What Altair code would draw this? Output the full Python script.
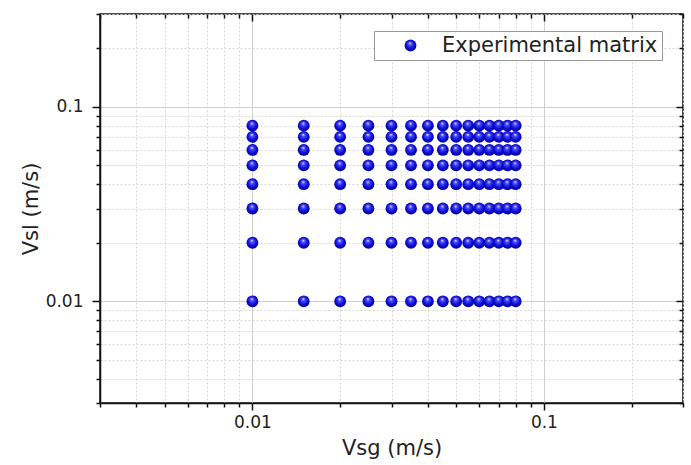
import altair as alt
import pandas as pd

# ---- data ----
vsg = [0.01, 0.015, 0.02, 0.025, 0.03, 0.035, 0.04, 0.045, 0.05,
       0.055, 0.06, 0.065, 0.07, 0.075, 0.08]
vsl = [0.01, 0.02, 0.03, 0.04, 0.05, 0.06, 0.07, 0.08]
series_name = "Experimental matrix"

tick_values = [0.003, 0.004, 0.005, 0.006, 0.007, 0.008, 0.009,
               0.01, 0.02, 0.03, 0.04, 0.05, 0.06, 0.07, 0.08, 0.09,
               0.1, 0.2, 0.3]
major_ticks = [0.01, 0.1]
minor_ticks = [v for v in tick_values if v not in major_ticks]
domain = [0.003, 0.3]

df = pd.DataFrame([{"Vsg": g, "Vsl": l, "series": series_name}
                   for l in vsl for g in vsg])

FONT = "DejaVu Sans"
is_major = "abs(log(datum.value)/LN10 - round(log(datum.value)/LN10)) < 0.001"
label_expr = f"({is_major}) ? format(datum.value, '~g') : ''"


def main_axis(orient, title, tick_major, label_pad, title_pad):
    return alt.Axis(
        orient=orient, values=tick_values, labelExpr=label_expr,
        title=title, titleFont=FONT, titleFontSize=21, titleFontWeight="normal",
        titleColor="#222", titlePadding=title_pad,
        labelFont=FONT, labelFontSize=17, labelColor="#222", labelPadding=label_pad,
        labelFlush=False, labelOverlap=False,
        tickColor="#111", tickWidth=1.5,
        tickSize={"condition": {"test": is_major, "value": tick_major}, "value": 4},
        domainColor="#111", domainWidth=1.5,
        grid=True,
        gridColor={"condition": {"test": is_major, "value": "#cfcfcf"}, "value": "#d6d6d6"},
        gridDash={"condition": {"test": is_major, "value": []}, "value": [2, 2]},
        gridWidth=1,
    )


xscale = alt.Scale(type="log", domain=domain, nice=False)
yscale = alt.Scale(type="log", domain=domain, nice=False)

gradient = alt.RadialGradient(
    gradient="radial",
    stops=[alt.GradientStop(offset=0, color="#ffffff"),
           alt.GradientStop(offset=0.22, color="#4a4aff"),
           alt.GradientStop(offset=0.6, color="#0a0ad0"),
           alt.GradientStop(offset=1, color="#000080")],
    x1=0.45, y1=0.3, r1=0, x2=0.5, y2=0.5, r2=0.62,
)

main = alt.Chart(df).mark_point(
    filled=True, fill=gradient, opacity=1, size=140, strokeWidth=0
).encode(
    x=alt.X("Vsg:Q", scale=xscale,
            axis=main_axis("bottom", "Vsg (m/s)", 7, 4, 7)),
    y=alt.Y("Vsl:Q", scale=yscale,
            axis=main_axis("left", "Vsl (m/s)", 8, 9, 4)),
    shape=alt.Shape("series:N", scale=alt.Scale(range=["circle"]),
                    legend=alt.Legend(
                        title=None, orient="none", legendX=274, legendY=17,
                        fillColor="white", strokeColor="#999999",
                        padding=4, symbolOffset=22, symbolSize=140,
                        symbolFillColor="#1212c8", symbolStrokeWidth=0,
                        symbolOpacity=1,
                        labelFont=FONT, labelFontSize=21, labelColor="#222",
                        labelOffset=21, labelLimit=400)),
)


def mirror_axis(orient, values, size):
    return alt.Axis(orient=orient, values=values, tickSize=size, offset=-size,
                    domain=False, labels=False, grid=False, title=None,
                    tickColor="#111", tickWidth=1.5)


mirror_major = alt.Chart(df).mark_point(opacity=0).encode(
    x=alt.X("Vsg:Q", scale=xscale, axis=mirror_axis("top", major_ticks, 7)),
    y=alt.Y("Vsl:Q", scale=yscale, axis=mirror_axis("right", major_ticks, 7)),
)
mirror_minor = alt.Chart(df).mark_point(opacity=0).encode(
    x=alt.X("Vsg:Q", scale=xscale, axis=mirror_axis("top", minor_ticks, 4)),
    y=alt.Y("Vsl:Q", scale=yscale, axis=mirror_axis("right", minor_ticks, 4)),
)

chart = alt.layer(main, mirror_major, mirror_minor).resolve_axis(
    x="independent", y="independent"
).properties(
    width=583, height=389,
    autosize=alt.AutoSizeParams(type="none"),
    padding={"left": 100, "top": 14, "right": 8, "bottom": 62},
    background="white",
).configure_view(stroke="#111", strokeWidth=1.5)

chart.save("out.html", embed_options={"renderer": "svg", "actions": False})
